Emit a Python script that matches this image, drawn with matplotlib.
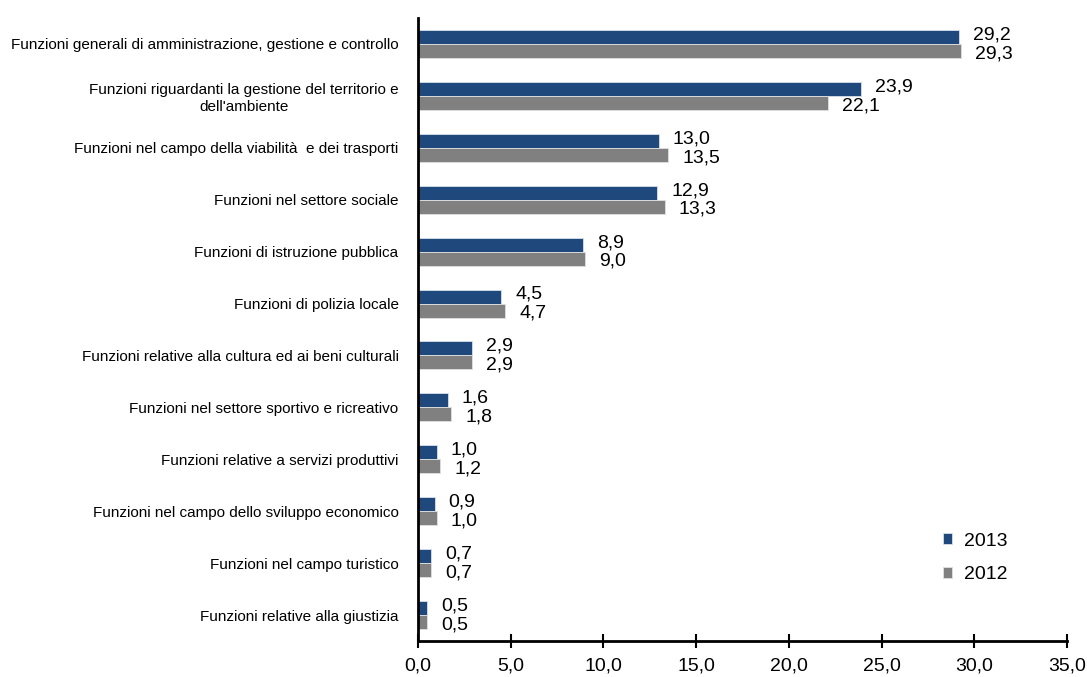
import matplotlib
matplotlib.use("Agg")
import matplotlib.pyplot as plt
import numpy as np
from matplotlib.ticker import FuncFormatter

categories = [
    "Funzioni generali di amministrazione, gestione e controllo",
    "Funzioni riguardanti la gestione del territorio e\ndell'ambiente",
    "Funzioni nel campo della viabilità  e dei trasporti",
    "Funzioni nel settore sociale",
    "Funzioni di istruzione pubblica",
    "Funzioni di polizia locale",
    "Funzioni relative alla cultura ed ai beni culturali",
    "Funzioni nel settore sportivo e ricreativo",
    "Funzioni relative a servizi produttivi",
    "Funzioni nel campo dello sviluppo economico",
    "Funzioni nel campo turistico",
    "Funzioni relative alla giustizia",
]
values_2013 = [29.2, 23.9, 13.0, 12.9, 8.9, 4.5, 2.9, 1.6, 1.0, 0.9, 0.7, 0.5]
values_2012 = [29.3, 22.1, 13.5, 13.3, 9.0, 4.7, 2.9, 1.8, 1.2, 1.0, 0.7, 0.5]
x_ticks = [0, 5, 10, 15, 20, 25, 30, 35]

plt.rcParams['font.family'] = ['Liberation Sans Narrow', 'Liberation Sans', 'DejaVu Sans']

fig = plt.figure(figsize=(10.87, 6.77), dpi=100)
ax = fig.add_axes([418/1087, 1-641/677, (1067-418)/1087, (641-18)/677])

y = np.arange(len(categories))
h = 0.27
c13 = "#1F497D"
c12 = "#808080"
b13 = ax.barh(y - h/2, values_2013, height=h, color=c13, edgecolor="#D9E1EA", linewidth=0.6, label="2013")
b12 = ax.barh(y + h/2, values_2012, height=h, color=c12, edgecolor="#E0E0E0", linewidth=0.6, label="2012")

def fmt(v):
    return f"{v:.1f}".replace(".", ",")

for yi, v in zip(y, values_2013):
    ax.annotate(fmt(v), (v, yi - h/2), xytext=(10, 1.5), textcoords="offset points",
                ha="left", va="center", fontsize=14)
for yi, v in zip(y, values_2012):
    ax.annotate(fmt(v), (v, yi + h/2), xytext=(10, -2), textcoords="offset points",
                ha="left", va="center", fontsize=14)

ax.set_xlim(0, 35)
ax.set_ylim(11.5, -0.5)
ax.set_xticks(x_ticks)
ax.xaxis.set_major_formatter(FuncFormatter(lambda v, p: f"{v:.1f}".replace(".", ",")))
ax.tick_params(axis="x", direction="inout", length=10, width=1.5, labelsize=14, pad=7, colors="black")
ax.set_yticks(y)
ax.set_yticklabels(categories, fontsize=11, multialignment="center")
ax.tick_params(axis="y", length=0, pad=14)
for s in ["top", "right"]:
    ax.spines[s].set_visible(False)
ax.spines["left"].set_linewidth(2)
ax.spines["bottom"].set_linewidth(2)

leg = fig.legend(handles=[b13, b12], labels=["2013", "2012"], loc="center",
                 bbox_to_anchor=(975/1087, 1-558/677), frameon=False, fontsize=14,
                 handlelength=0.5, handleheight=0.5, handletextpad=0.6, labelspacing=0.85)

fig.savefig("out.png", dpi=100)
